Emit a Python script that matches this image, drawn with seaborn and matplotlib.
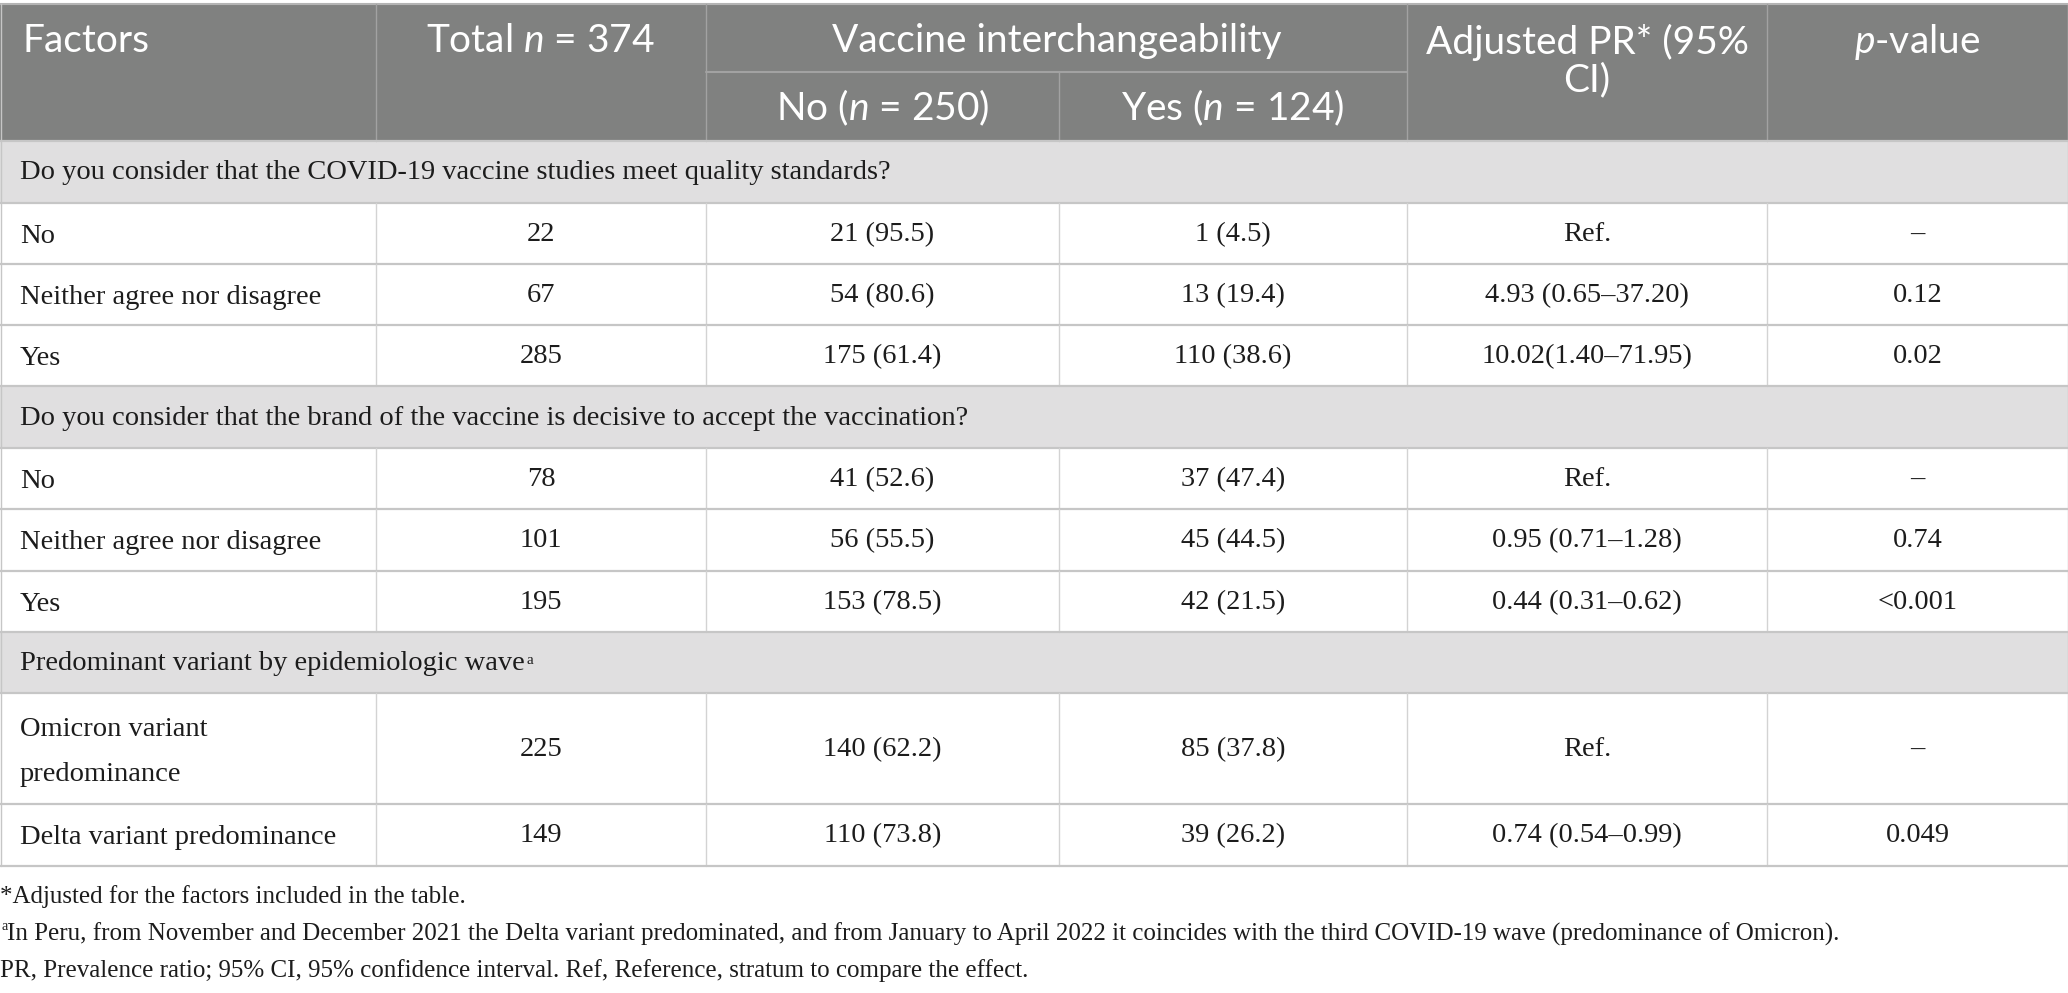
import matplotlib
matplotlib.use("Agg")
import matplotlib.pyplot as plt
from matplotlib.patches import Rectangle
import seaborn as sns
import pandas as pd

# table contents
header_top = ["Factors", "Total $n$ = 374", "Vaccine interchangeability", "Adjusted PR* (95%", "$p$-value"]
header_sub = ["No ($n$ = 250)", "Yes ($n$ = 124)"]
header_pr_line2 = "CI)"

section_titles = [
    "Do you consider that the COVID-19 vaccine studies meet quality standards?",
    "Do you consider that the brand of the vaccine is decisive to accept the vaccination?",
    "Predominant variant by epidemiologic wave",
]
section_sizes = [3, 3, 2]

factors = ["No", "Neither agree nor disagree", "Yes",
           "No", "Neither agree nor disagree", "Yes",
           "Omicron variant\npredominance", "Delta variant predominance"]
totals = [22, 67, 285, 78, 101, 195, 225, 149]
no_n = [21, 54, 175, 41, 56, 153, 140, 110]
no_pct = [95.5, 80.6, 61.4, 52.6, 55.5, 78.5, 62.2, 73.8]
yes_n = [1, 13, 110, 37, 45, 42, 85, 39]
yes_pct = [4.5, 19.4, 38.6, 47.4, 44.5, 21.5, 37.8, 26.2]
adj_pr = ["Ref.", "4.93 (0.65–37.20)", "10.02(1.40–71.95)",
          "Ref.", "0.95 (0.71–1.28)", "0.44 (0.31–0.62)",
          "Ref.", "0.74 (0.54–0.99)"]
p_values = ["–", "0.12", "0.02", "–", "0.74", "<0.001", "–", "0.049"]

footnotes = [
    "*Adjusted for the factors included in the table.",
    "In Peru, from November and December 2021 the Delta variant predominated, and from January to April 2022 it coincides with the third COVID-19 wave (predominance of Omicron).",
    "PR, Prevalence ratio; 95% CI, 95% confidence interval. Ref, Reference, stratum to compare the effect.",
]

df = pd.DataFrame({
    "factor": factors,
    "total": totals,
    "no": [f"{n} ({p:.1f})" for n, p in zip(no_n, no_pct)],
    "yes": [f"{n} ({p:.1f})" for n, p in zip(yes_n, yes_pct)],
    "pr": adj_pr,
    "p": p_values,
})

sns.set_theme(style="white")
plt.rcParams["mathtext.fontset"] = "custom"
plt.rcParams["mathtext.rm"] = "Lato"
plt.rcParams["mathtext.it"] = "Lato:italic"

HEAD_FONT = "Lato"
BODY_FONT = ["Liberation Serif", "DejaVu Serif"]
HEAD_BG = "#808180"
SEC_BG = "#e0dfe0"
HLINE = "#c6c6c6"
VLINE = "#d3d3d3"
HEAD_LINE = "#a2a2a2"
TXT = "#1c1c1c"

fig = plt.figure(figsize=(20.68, 9.93), dpi=100)
ax = fig.add_axes([0, 0, 1, 1])
ax.set_xlim(0, 2068)
ax.set_ylim(993, 0)
ax.axis("off")

col_edges = [0, 376, 706, 1059, 1407, 1767, 2068]
centers = [(a + b) / 2 for a, b in zip(col_edges[:-1], col_edges[1:])]
W = col_edges[-1]

# header block
h0, h1, h2 = 4, 72, 141
ax.add_patch(Rectangle((0, h0), W, h2 - h0, facecolor=HEAD_BG, edgecolor="none"))
ax.plot([0, W], [h0, h0], color="#b4b4b4", lw=1.5)
ax.plot([col_edges[2], col_edges[4]], [h1, h1], color=HEAD_LINE, lw=1.5)
for i, x in enumerate(col_edges[1:-1], start=1):
    y_start = h1 if i == 3 else h0
    ax.plot([x, x], [y_start, h2], color=HEAD_LINE, lw=1.0)

hs = 28
yh = 41
ax.text(23, yh, header_top[0], ha="left", va="center", color="white", fontsize=hs, family=HEAD_FONT)
ax.text(centers[1], yh, header_top[1], ha="center", va="center", color="white", fontsize=hs, family=HEAD_FONT)
ax.text((col_edges[2] + col_edges[4]) / 2, yh, header_top[2], ha="center", va="center",
        color="white", fontsize=hs, family=HEAD_FONT)
ax.text(centers[4], 42, header_top[3], ha="center", va="center", color="white", fontsize=hs, family=HEAD_FONT)
ax.text(centers[4], 80, header_pr_line2, ha="center", va="center", color="white", fontsize=hs, family=HEAD_FONT)
ax.text(centers[5], 42, header_top[4], ha="center", va="center", color="white", fontsize=hs, family=HEAD_FONT)
ax.text(centers[2], 108, header_sub[0], ha="center", va="center", color="white", fontsize=hs, family=HEAD_FONT)
ax.text(centers[3], 108, header_sub[1], ha="center", va="center", color="white", fontsize=hs, family=HEAD_FONT)

# body
bs = 20.5
sec_h = 61.5
row_h = 61.3
tall_h = 111
y = h2
row_idx = 0
for s, (title, size) in enumerate(zip(section_titles, section_sizes)):
    ax.add_patch(Rectangle((0, y), W, sec_h, facecolor=SEC_BG, edgecolor="none"))
    t = ax.text(20, y + sec_h / 2 + 1, title, ha="left", va="center", color=TXT, fontsize=bs, family=BODY_FONT)
    if s == 2:
        ax.annotate("a", xy=(1, 0.88), xycoords=t, xytext=(1, 0), textcoords="offset points",
                    ha="left", va="top", fontsize=11, family=BODY_FONT, color=TXT)
    ax.plot([0, W], [y, y], color=HLINE, lw=1.6)
    y += sec_h
    for k in range(size):
        r = df.iloc[row_idx]
        h = tall_h if "\n" in r["factor"] else row_h
        ax.plot([0, W], [y, y], color=HLINE, lw=1.6)
        for x in col_edges[1:-1]:
            ax.plot([x, x], [y, y + h], color=VLINE, lw=1.0)
        yc = y + h / 2 + 1
        ax.text(20, yc + 2, r["factor"], ha="left", va="center", color=TXT, fontsize=bs,
                family=BODY_FONT, linespacing=2.05)
        vals = [str(r["total"]), r["no"], r["yes"], r["pr"], r["p"]]
        for c, v in enumerate(vals, start=1):
            ax.text(centers[c], yc, v, ha="center", va="center", color=TXT, fontsize=bs, family=BODY_FONT)
        y += h
        row_idx += 1
ax.plot([0, W], [y, y], color=HLINE, lw=1.6)
ax.plot([0.5, 0.5], [h0, y], color=HLINE, lw=1.0)
ax.plot([W - 0.5, W - 0.5], [h0, y], color=HLINE, lw=1.0)

# footnotes
fs = 18
fy = [897, 934, 971]
ax.text(0, fy[0], footnotes[0], ha="left", va="center", color=TXT, fontsize=fs, family=BODY_FONT)
sup = ax.text(1, fy[1] - 8, "a", ha="left", va="center", color=TXT, fontsize=10, family=BODY_FONT)
ax.annotate(footnotes[1], xy=(1, 0.5), xycoords=sup, xytext=(0, -8), textcoords="offset pixels",
            ha="left", va="center", color=TXT, fontsize=fs, family=BODY_FONT)
ax.text(0, fy[2], footnotes[2], ha="left", va="center", color=TXT, fontsize=fs, family=BODY_FONT)

fig.savefig("out.png", dpi=100, facecolor="white")
